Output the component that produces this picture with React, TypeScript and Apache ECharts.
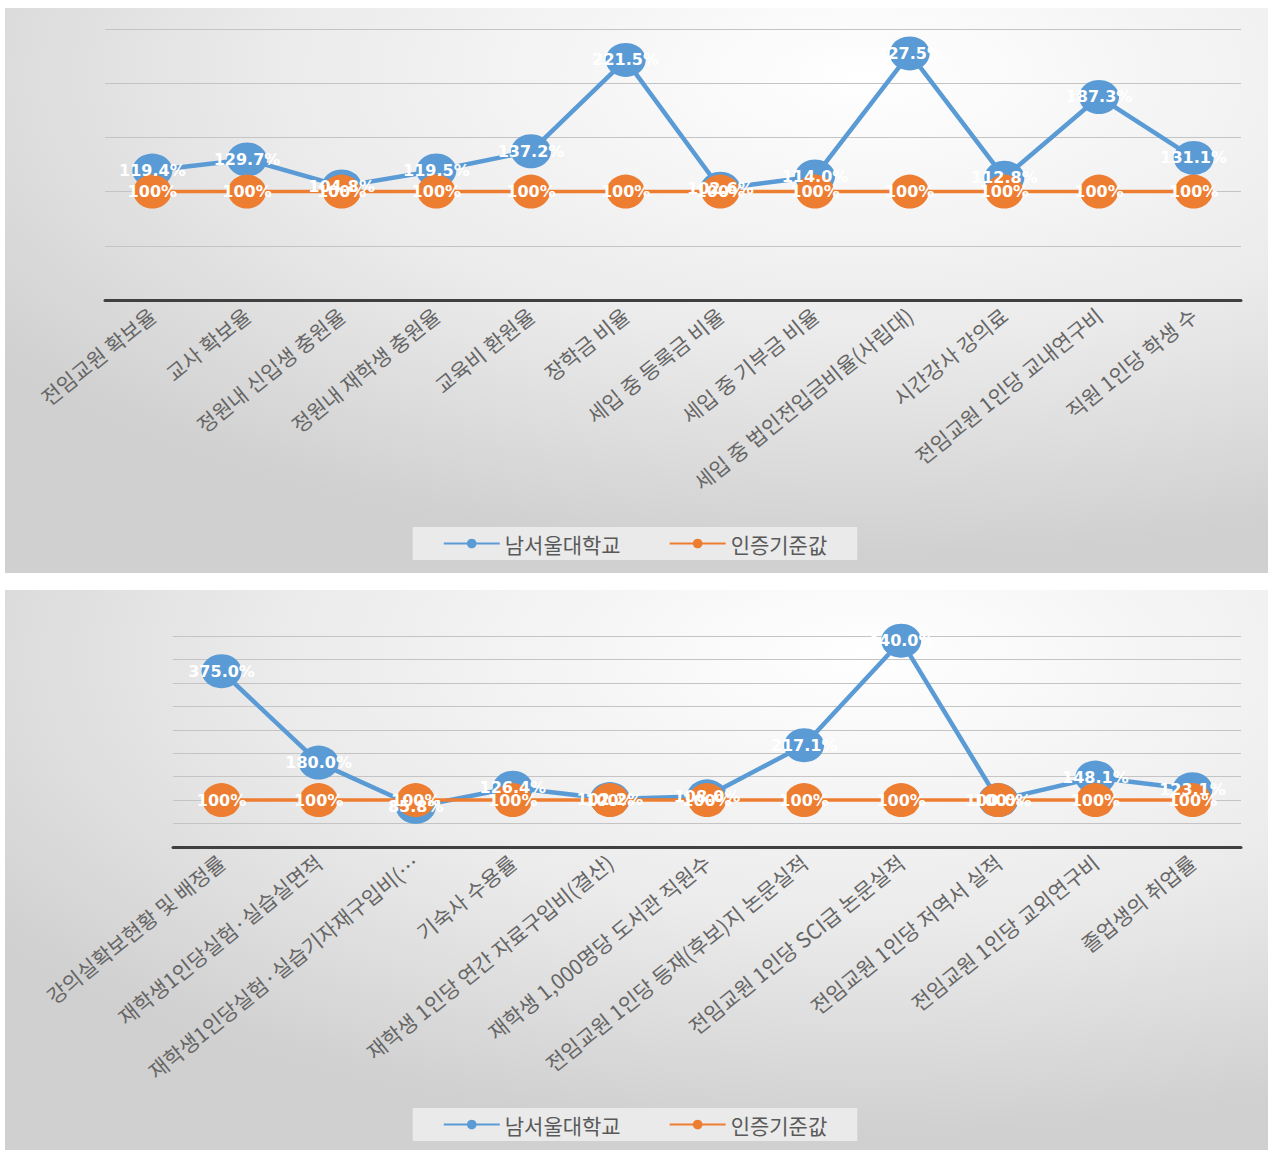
import React, { useEffect, useRef } from "react";
import * as echarts from "echarts";

const seriesNames = ["남서울대학교", "인증기준값"];

const topCategories = [
  "전임교원 확보율",
  "교사 확보율",
  "정원내 신입생 충원율",
  "정원내 재학생 충원율",
  "교육비 환원율",
  "장학금 비율",
  "세입 중 등록금 비율",
  "세입 중 기부금 비율",
  "세입 중 법인전입금비율(사립대)",
  "시간강사 강의료",
  "전임교원 1인당 교내연구비",
  "직원 1인당 학생 수",
];
const topSchool = [119.4, 129.7, 104.8, 119.5, 137.2, 221.5, 102.6, 114.0, 227.5, 112.8, 187.3, 131.1];
const topStandard = [100, 100, 100, 100, 100, 100, 100, 100, 100, 100, 100, 100];

const bottomCategories = [
  "강의실확보현황 및 배정률",
  "재학생1인당실험·실습실면적",
  "재학생1인당실험·실습기자재구입비(…",
  "기숙사 수용률",
  "재학생 1인당 연간 자료구입비(결산)",
  "재학생 1,000명당 도서관 직원수",
  "전임교원 1인당 등재(후보)지 논문실적",
  "전임교원 1인당 SCI급 논문실적",
  "전임교원 1인당 저역서 실적",
  "전임교원 1인당 교외연구비",
  "졸업생의 취업률",
];
const bottomSchool = [375.0, 180.0, 85.8, 126.4, 102.2, 108.0, 217.1, 440.0, 100.0, 148.1, 123.1];
const bottomStandard = [100, 100, 100, 100, 100, 100, 100, 100, 100, 100, 100];

const BLUE = "#5B9BD5";
const ORANGE = "#ED7D31";
const FONT = "'Noto Sans CJK KR', 'Noto Sans', sans-serif";
const NUMFONT = "'DejaVu Sans', 'Noto Sans', sans-serif";

export default function App() {
  const ref = useRef<HTMLDivElement>(null);

  useEffect(() => {
    if (!ref.current) return;
    const chart = echarts.init(ref.current, undefined, { renderer: "svg" });

    const panelFill = () =>
      new echarts.graphic.RadialGradient(0.68, 0.12, 0.85, [
        { offset: 0, color: "#ffffff" },
        { offset: 0.55, color: "#ebebeb" },
        { offset: 1, color: "#d0d0d0" },
      ]);

    const xAxisCommon = {
      type: "category",
      boundaryGap: true,
      axisLine: { show: true, lineStyle: { color: "#404040", width: 3 } },
      axisTick: { show: false },
      axisLabel: {
        rotate: 39,
        interval: 0,
        fontSize: 21,
        color: "#666666",
        fontFamily: FONT,
        margin: 12,
      },
    };
    const yAxisCommon = {
      type: "value",
      min: 0,
      interval: 50,
      axisLine: { show: false },
      axisTick: { show: false },
      axisLabel: { show: false },
      splitLine: { show: true, lineStyle: { color: "#c4c4c4", width: 1.2 } },
    };

    const labelStyle = {
      show: true,
      position: "inside",
      color: "#ffffff",
      fontSize: 16,
      fontWeight: "bold",
      fontFamily: NUMFONT,
    };

    const blueSeries = (data: number[], idx: number) => ({
      name: seriesNames[0],
      type: "line",
      xAxisIndex: idx,
      yAxisIndex: idx,
      data,
      symbol: "circle",
      symbolSize: [40, 34],
      itemStyle: { color: BLUE },
      lineStyle: { color: BLUE, width: 4.5 },
      z: 2,
      label: { show: false },
    });
    const blueLabels = (data: number[], idx: number) => ({
      name: "label-" + idx,
      type: "line",
      xAxisIndex: idx,
      yAxisIndex: idx,
      data,
      symbol: "circle",
      symbolSize: 1,
      itemStyle: { color: "rgba(0,0,0,0)" },
      lineStyle: { width: 0, opacity: 0 },
      silent: true,
      z: 5,
      label: {
        ...labelStyle,
        formatter: (p: any) => Number(p.value).toFixed(1) + "%",
      },
    });
    const orangeSeries = (data: number[], idx: number) => ({
      name: seriesNames[1],
      type: "line",
      xAxisIndex: idx,
      yAxisIndex: idx,
      data,
      symbol: "circle",
      symbolSize: [38, 34],
      itemStyle: { color: ORANGE },
      lineStyle: { color: ORANGE, width: 3.5 },
      z: 3,
      label: {
        ...labelStyle,
        formatter: (p: any) => p.value + "%",
      },
    });

    const legendCommon = {
      data: seriesNames,
      left: "center",
      itemWidth: 56,
      itemHeight: 12,
      itemGap: 48,
      backgroundColor: "#eaeaea",
      padding: [6, 30, 6, 30],
      textStyle: { fontSize: 21, color: "#595959", fontFamily: FONT },
    };

    chart.setOption({
      animation: false,
      backgroundColor: "#ffffff",
      graphic: [
        { type: "rect", z: -10, shape: { x: 5, y: 8, width: 1263, height: 565 }, style: { fill: panelFill() } },
        { type: "rect", z: -10, shape: { x: 5, y: 590, width: 1263, height: 560 }, style: { fill: panelFill() } },
      ],
      legend: [
        { ...legendCommon, top: 527 },
        { ...legendCommon, top: 1108 },
      ],
      grid: [
        { left: 105, width: 1136, top: 29, height: 271 },
        { left: 173, width: 1068, top: 636, height: 211 },
      ],
      xAxis: [
        { ...xAxisCommon, gridIndex: 0, data: topCategories },
        { ...xAxisCommon, gridIndex: 1, data: bottomCategories },
      ],
      yAxis: [
        { ...yAxisCommon, gridIndex: 0, max: 250 },
        { ...yAxisCommon, gridIndex: 1, max: 450 },
      ],
      series: [
        blueSeries(topSchool, 0),
        orangeSeries(topStandard, 0),
        blueLabels(topSchool, 0),
        blueSeries(bottomSchool, 1),
        orangeSeries(bottomStandard, 1),
        blueLabels(bottomSchool, 1),
      ],
    });

    return () => chart.dispose();
  }, []);

  return (
    <div
      ref={ref}
      style={{ position: "absolute", left: 0, top: 0, width: 1270, height: 1151 }}
    />
  );
}
